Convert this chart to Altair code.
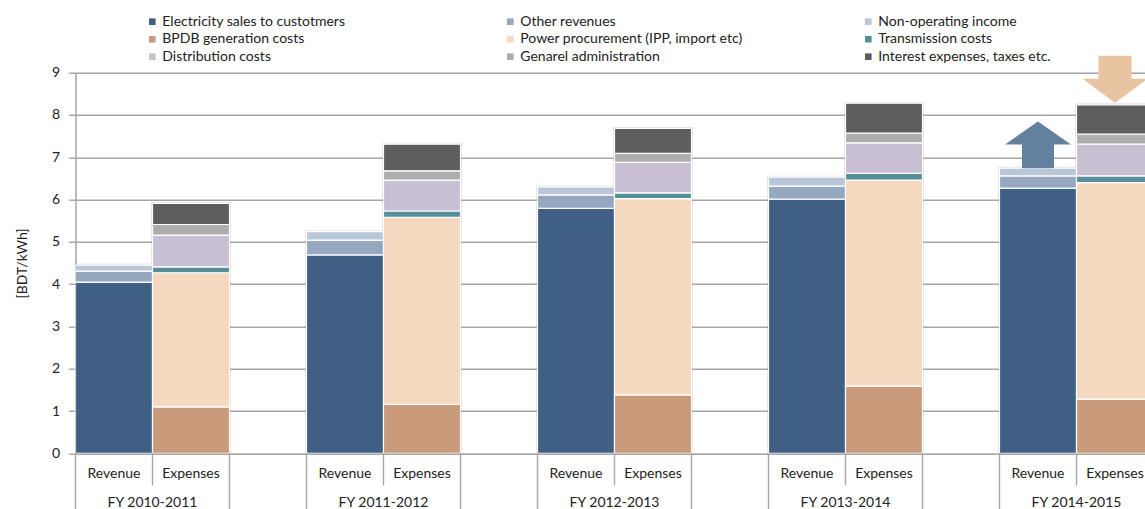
import altair as alt
import pandas as pd

# ---- data -------------------------------------------------------------
years = ["FY 2010-2011", "FY 2011-2012", "FY 2012-2013", "FY 2013-2014", "FY 2014-2015"]
sides = ["Revenue", "Expenses"]

revenue_items = ["Electricity sales to custotmers", "Other revenues", "Non-operating income"]
expense_items = [
    "BPDB generation costs",
    "Power procurement (IPP, import etc)",
    "Transmission costs",
    "Distribution costs",
    "Genarel administration",
    "Interest expenses, taxes etc.",
]

# BDT per kWh, one value per fiscal year
electricity_sales = [4.05, 4.69, 5.79, 6.01, 6.27]
other_revenues = [0.26, 0.35, 0.32, 0.31, 0.29]
non_operating_income = [0.14, 0.20, 0.19, 0.21, 0.18]

bpdb_generation = [1.10, 1.16, 1.38, 1.59, 1.28]
power_procurement = [3.17, 4.42, 4.64, 4.87, 5.12]
transmission = [0.14, 0.15, 0.14, 0.16, 0.16]
distribution = [0.75, 0.73, 0.72, 0.72, 0.75]
general_admin = [0.25, 0.22, 0.21, 0.23, 0.24]
interest_taxes = [0.50, 0.63, 0.59, 0.71, 0.69]

revenue_series = [electricity_sales, other_revenues, non_operating_income]
expense_series = [bpdb_generation, power_procurement, transmission,
                  distribution, general_admin, interest_taxes]

# legend fills column by column (3 rows each)
legend_order = [
    "Electricity sales to custotmers", "BPDB generation costs", "Distribution costs",
    "Other revenues", "Power procurement (IPP, import etc)", "Genarel administration",
    "Non-operating income", "Transmission costs", "Interest expenses, taxes etc.",
]
palette = {
    "Electricity sales to custotmers": "#3F5F84",
    "Other revenues": "#95A8C0",
    "Non-operating income": "#B9C7D9",
    "BPDB generation costs": "#C99B7A",
    "Power procurement (IPP, import etc)": "#F4D8BF",
    "Transmission costs": "#568E99",
    "Distribution costs": "#C9BFD5",
    "Genarel administration": "#ADADAD",
    "Interest expenses, taxes etc.": "#5E5E5E",
}

# ---- layout ------------------------------------------------------------
FONT = "Lato"
SLOT_PX = 77.0            # width of one bar slot
PLOT_W = 1069.5
PLOT_H = 380.6
N_SLOTS = PLOT_W / SLOT_PX   # visible slots (last one is cut at the edge)
SLOTS_PER_YEAR = 3           # Revenue, Expenses, gap

rows = []
for g, year in enumerate(years):
    for s, (side, items, series) in enumerate(
        [("Revenue", revenue_items, revenue_series), ("Expenses", expense_items, expense_series)]
    ):
        start = g * SLOTS_PER_YEAR + s
        for k, (item, vals) in enumerate(zip(items, series)):
            rows.append(dict(year=year, side=side, item=item, order=k,
                             value=vals[g], x0=start, x1=start + 1))
bars_df = pd.DataFrame(rows)

x_scale = alt.Scale(domain=[0, N_SLOTS], nice=False, zero=False)
y_scale = alt.Scale(domain=[0, 9], nice=False)

base = alt.Chart(bars_df)

bars = base.transform_stack(
    stack="value", groupby=["year", "side"], as_=["y0", "y1"],
    sort=[alt.SortField("order", order="ascending")],
).mark_bar(clip=True, stroke="white", strokeWidth=1.2).encode(
    x=alt.X("x0:Q", scale=x_scale, axis=None),
    x2="x1:Q",
    y=alt.Y("y0:Q", scale=y_scale, axis=alt.Axis(
        values=list(range(10)), title="[BDT/kWh]", grid=True,
        gridColor="#A6A6A6", gridWidth=1.4, domainColor="#A6A6A6", domainWidth=1.4,
        tickColor="#A6A6A6", tickWidth=1.4, tickSize=7, labelPadding=9,
        labelFont=FONT, labelFontSize=14, labelColor="#222222",
        titleFont=FONT, titleFontSize=14, titleFontWeight="normal", titleColor="#222222",
        titlePadding=22,
    )),
    y2="y1:Q",
    color=alt.Color("item:N", scale=alt.Scale(domain=legend_order,
                                              range=[palette[i] for i in legend_order]),
                    legend=alt.Legend(
                        title=None, orient="none", legendX=69.8, legendY=-58,
                        columns=3, gridAlign="all", columnPadding=118, rowPadding=3.5,
                        symbolType="square", symbolSize=44, symbolStrokeWidth=0,
                        labelFont=FONT, labelFontSize=14, labelColor="#222222",
                        labelOffset=3, labelLimit=400, padding=0,
                    )),
)

# soft shadow around each whole bar
totals_df = bars_df.groupby(["year", "side", "x0", "x1"], as_index=False)["value"].sum()
shadow = alt.Chart(totals_df).mark_bar(
    clip=True, fill="#000000", fillOpacity=0.0, stroke="#000000", strokeOpacity=0.10, strokeWidth=3
).encode(
    x=alt.X("x0:Q", scale=x_scale, axis=None), x2="x1:Q",
    y=alt.Y("value:Q", scale=y_scale), y2=alt.datum(0),
)

# arrows over the last fiscal year
last = years[-1]
rev_total = totals_df[(totals_df.year == last) & (totals_df.side == "Revenue")]
exp_total = totals_df[(totals_df.year == last) & (totals_df.side == "Expenses")]
up_path = "M0,-1.42L1,-0.72L0.485,-0.72L0.485,0L-0.485,0L-0.485,-0.72L-1,-0.72Z"
down_path = "M0,0L-1,-0.74L-0.51,-0.74L-0.51,-1.45L0.51,-1.45L0.51,-0.74L1,-0.74Z"

up_arrow = alt.Chart(rev_total).transform_calculate(xc="(datum.x0 + datum.x1) / 2").mark_point(
    shape=up_path, filled=True, fill="#64809F", fillOpacity=1, strokeWidth=0, size=4356
).encode(x=alt.X("xc:Q", scale=x_scale), y=alt.Y("value:Q", scale=y_scale))

down_arrow = alt.Chart(exp_total).transform_calculate(xc="(datum.x0 + datum.x1) / 2").mark_point(
    shape=down_path, filled=True, fill="#E8C4A0", fillOpacity=1, strokeWidth=0, size=4225,
    yOffset=-2,
).encode(x=alt.X("xc:Q", scale=x_scale), y=alt.Y("value:Q", scale=y_scale))

# two-level category axis drawn below the plot
side_df = bars_df.drop_duplicates(["year", "side"])[["year", "side", "x0", "x1"]].copy()
side_df["xc"] = (side_df.x0 + side_df.x1) / 2
side_labels = alt.Chart(side_df).mark_text(
    font=FONT, fontSize=14, color="#222222", baseline="middle"
).encode(x=alt.X("xc:Q", scale=x_scale), y=alt.value(PLOT_H + 21), text="side:N")

year_df = pd.DataFrame({"year": years,
                        "xc": [g * SLOTS_PER_YEAR + 1 for g in range(len(years))]})
year_labels = alt.Chart(year_df).mark_text(
    font=FONT, fontSize=14, color="#222222", baseline="middle"
).encode(x=alt.X("xc:Q", scale=x_scale), y=alt.value(PLOT_H + 50), text="year:N")

inner_df = pd.DataFrame({"xb": [g * SLOTS_PER_YEAR + 1 for g in range(len(years))]})
outer_df = pd.DataFrame({"xb": [b for g in range(len(years))
                                for b in (g * SLOTS_PER_YEAR, g * SLOTS_PER_YEAR + 2)
                                if b <= N_SLOTS]})
inner_rules = alt.Chart(inner_df).mark_rule(color="#A6A6A6", strokeWidth=1.4).encode(
    x=alt.X("xb:Q", scale=x_scale), y=alt.value(PLOT_H), y2=alt.value(PLOT_H + 32))
outer_rules = alt.Chart(outer_df).mark_rule(color="#A6A6A6", strokeWidth=1.4).encode(
    x=alt.X("xb:Q", scale=x_scale), y=alt.value(PLOT_H), y2=alt.value(PLOT_H + 60))

chart = alt.layer(
    shadow, bars, inner_rules, outer_rules, side_labels, year_labels, up_arrow, down_arrow
).properties(
    width=PLOT_W, height=PLOT_H,
    autosize=alt.AutoSizeParams(type="none"),
    padding={"left": 75.5, "top": 72.7, "right": 0, "bottom": 55.7},
).configure_view(stroke=None).configure(background="white")

chart.save("out.html", embed_options={"renderer": "svg", "actions": False})
